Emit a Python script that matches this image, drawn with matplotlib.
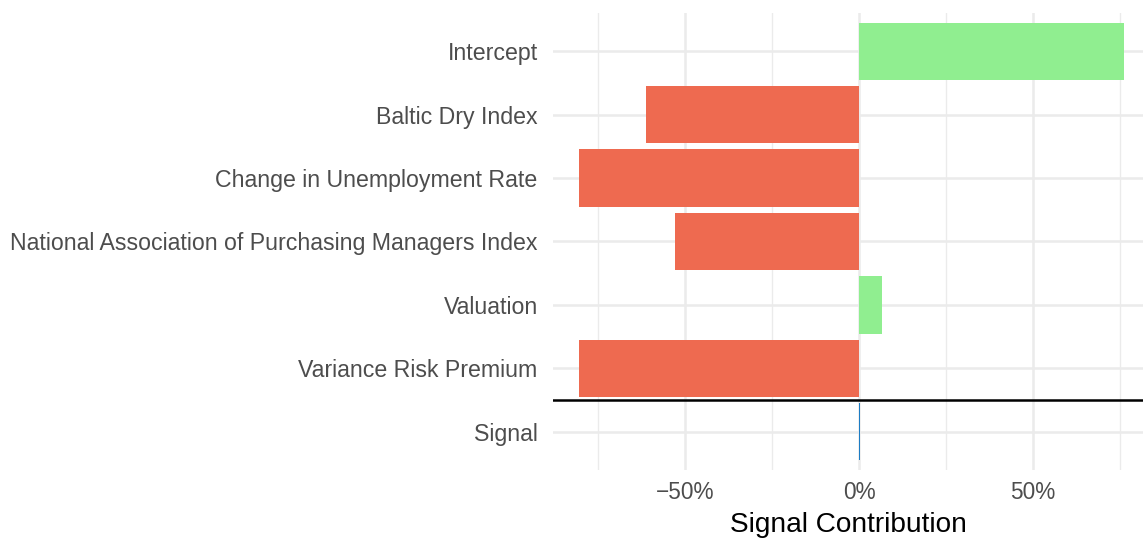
import matplotlib.pyplot as plt
import numpy as np
from matplotlib.ticker import FuncFormatter, MultipleLocator

plt.rcParams['font.family'] = ['Liberation Sans', 'DejaVu Sans']

# contributions in percent, top to bottom
categories = ['Intercept', 'Baltic Dry Index', 'Change in Unemployment Rate',
              'National Association of Purchasing Managers Index', 'Valuation',
              'Variance Risk Premium', 'Signal']
contrib = [76.1, -61.2, -80.5, -52.9, 6.6, -80.5, 0.3]

red = '#EE6A50'
green = '#90EE90'
blue = '#1C7CC4'

colors = []
for c, v in zip(categories, contrib):
    if c == 'Signal':
        colors.append(blue)
    elif v >= 0:
        colors.append(green)
    else:
        colors.append(red)

fig = plt.figure(figsize=(11.43, 5.4), dpi=100)
ax = fig.add_axes([553 / 1143, 1 - 470 / 540, 1 - 553 / 1143, (470 - 13) / 540])

y = np.arange(len(categories))[::-1] + 1
ax.barh(y, contrib, height=0.9, color=colors, zorder=3)
# separator between the components and the signal
ax.axhline(1.5, color='black', linewidth=1.8, zorder=4)

ax.set_xlim(-88.0, 81.6)
ax.set_ylim(0.4, len(categories) + 0.6)
ax.set_yticks(y)
ax.set_yticklabels(categories)

ax.xaxis.set_major_locator(MultipleLocator(50))
ax.xaxis.set_minor_locator(MultipleLocator(25))
ax.xaxis.set_major_formatter(FuncFormatter(lambda v, p: f'{v:.0f}%'.replace('-', '\u2212')))

ax.grid(True, which='major', color='#EBEBEB', linewidth=1.8, zorder=0)
ax.grid(True, which='minor', axis='x', color='#EBEBEB', linewidth=1.0, zorder=0)
for s in ax.spines.values():
    s.set_visible(False)
ax.tick_params(axis='both', which='both', length=0, colors='#4D4D4D')
ax.tick_params(axis='y', pad=11, labelsize=16.7)
ax.tick_params(axis='x', pad=8, labelsize=16.3)

ax.set_xlabel('Signal Contribution', fontsize=20.2, color='black', labelpad=6)

fig.savefig('out.png', dpi=100)
